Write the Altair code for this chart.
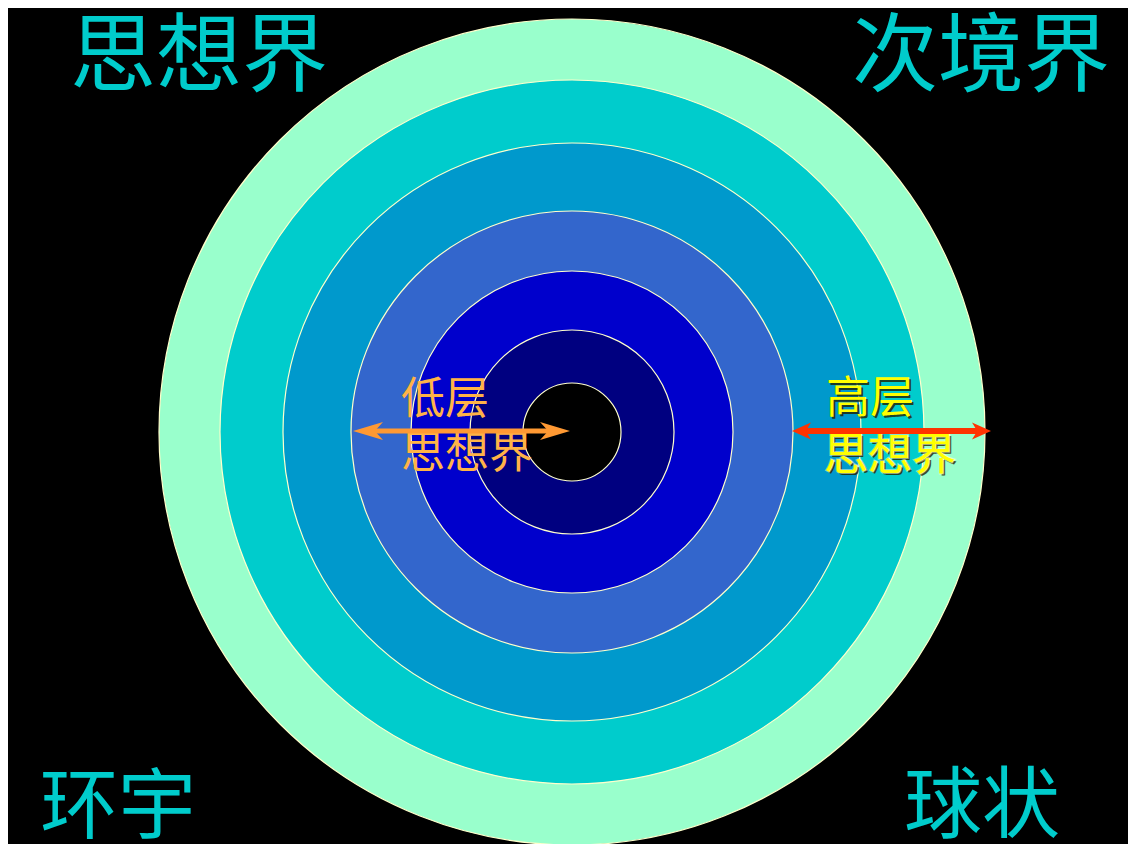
import altair as alt
import pandas as pd

W, H = 1120, 836
CX, CY = 564, 424

ring_radius = [413, 352, 289, 221, 161, 102, 49]
ring_color = ["#99FFCC", "#00CCCC", "#0099CC", "#3366CC", "#0000CC", "#000080", "#000000"]

corner_text = ["思想界", "次境界", "环宇", "球状"]
corner_x = [191, 973, 110, 974]
corner_y = [51, 51, 802, 801]
corner_size = [86, 86, 78, 78]

low_text = ["低层", "思想界"]
low_x = [393, 393]
low_y = [393, 447]

high_text = ["高层", "思想界"]
high_x = [818, 816]
high_y = [392, 449]

# arrows: tip positions
orange_tips = [345, 562]
red_tips = [784, 983]
arrow_y = 423

FONT = "Noto Sans CJK SC"

xs = alt.Scale(domain=[0, W])
ys = alt.Scale(domain=[H, 0])

def X(f):
    return alt.X(f, type="quantitative", scale=xs, axis=None)

def Y(f):
    return alt.Y(f, type="quantitative", scale=ys, axis=None)

rings = pd.DataFrame({"r": ring_radius, "color": ring_color, "cx": CX, "cy": CY})
circles = alt.Chart(rings).transform_calculate(
    s="4*datum.r*datum.r"
).mark_circle(opacity=1, stroke="#FFFFCC", strokeWidth=1.2, clip=False).encode(
    x=X("cx"), y=Y("cy"),
    size=alt.Size("s:Q", scale=None, legend=None),
    color=alt.Color("color:N", scale=None, legend=None),
)

corners = pd.DataFrame({"t": corner_text, "x": corner_x, "y": corner_y, "fs": corner_size})
corner_layer = alt.Chart(corners).mark_text(
    font=FONT, color="#00CCCC", align="center", baseline="middle"
).encode(x=X("x"), y=Y("y"), text="t:N", size=alt.Size("fs:Q", scale=None, legend=None))

low = pd.DataFrame({"t": low_text, "x": low_x, "y": low_y})
low_layer = alt.Chart(low).mark_text(
    font=FONT, fontSize=44, color="#FFB347", align="left", baseline="middle"
).encode(x=X("x"), y=Y("y"), text="t:N")

high = pd.DataFrame({"t": high_text, "x": high_x, "y": high_y})
high_shadow = alt.Chart(high).mark_text(
    font=FONT, fontSize=44, color="#222200", align="left", baseline="middle", dx=2, dy=2, opacity=0.8
).encode(x=X("x"), y=Y("y"), text="t:N")
high_glow = alt.Chart(high.iloc[[1]]).mark_text(
    font=FONT, fontSize=44, color="#FFFF66", stroke="#FFFFDD", strokeWidth=2, strokeOpacity=0.5,
    align="left", baseline="middle"
).encode(x=X("x"), y=Y("y"), text="t:N")
high_layer = alt.Chart(high).mark_text(
    font=FONT, fontSize=44, color="#FFFF00", align="left", baseline="middle"
).encode(x=X("x"), y=Y("y"), text="t:N")

def arrow(tips, color, head_len, head_half, width):
    scale = head_len / 2.0
    size = (2 * scale) ** 2
    a, b = tips
    line = pd.DataFrame({"x": [a + head_len * 0.7], "x2": [b - head_len * 0.7], "y": [arrow_y]})
    rule = alt.Chart(line).mark_rule(color=color, strokeWidth=width).encode(
        x=X("x"), x2="x2", y=Y("y")
    )
    hl = f"M -1 0 L 1 {-head_half} L 0.45 0 L 1 {head_half} Z"
    hr = f"M 1 0 L -1 {-head_half} L -0.45 0 L -1 {head_half} Z"
    left = alt.Chart(pd.DataFrame({"x": [a + scale], "y": [arrow_y]})).mark_point(
        shape=hl, size=size, filled=True, color=color, opacity=1, strokeWidth=0
    ).encode(x=X("x"), y=Y("y"))
    right = alt.Chart(pd.DataFrame({"x": [b - scale], "y": [arrow_y]})).mark_point(
        shape=hr, size=size, filled=True, color=color, opacity=1, strokeWidth=0
    ).encode(x=X("x"), y=Y("y"))
    return rule + left + right

orange_arrow = arrow(orange_tips, "#FF9933", 30, 0.6, 5)
red_arrow = arrow(red_tips, "#FF3300", 19, 0.9, 6)

chart = alt.layer(
    circles, corner_layer, low_layer, orange_arrow,
    high_shadow, high_glow, high_layer, red_arrow
).properties(
    width=W, height=H, background="#000000", padding=0,
    autosize=alt.AutoSizeParams(type="none")
).configure_view(strokeWidth=0, fill="#000000")

chart.save("out.html", embed_options={"renderer": "svg", "actions": False})
